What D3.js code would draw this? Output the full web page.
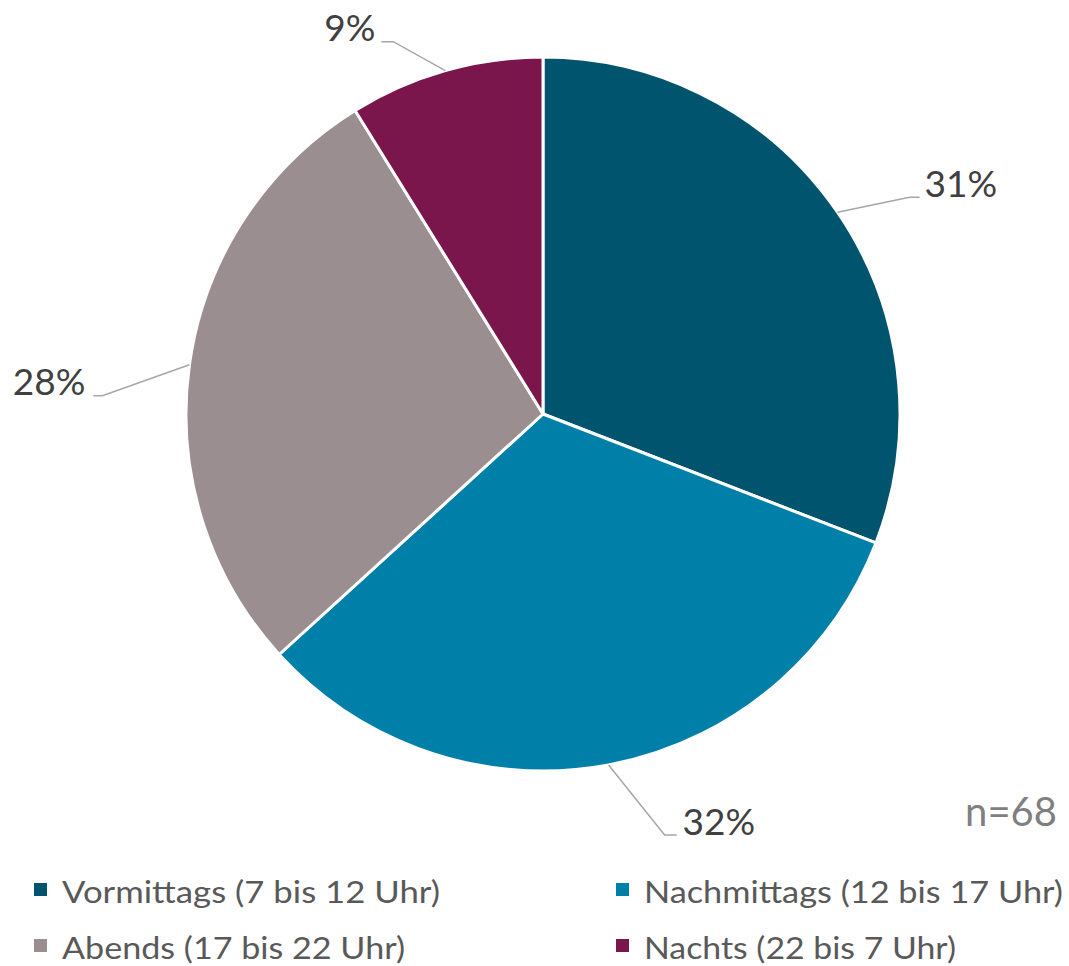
<!DOCTYPE html>
<html><head><meta charset="utf-8">
<script src="https://cdn.jsdelivr.net/npm/d3@7"></script>
<style>body{margin:0;background:#fff}svg{display:block}</style>
</head><body>
<svg id="c" width="1069" height="966"></svg>
<script>
const categories = ["Vormittags (7 bis 12 Uhr)", "Nachmittags (12 bis 17 Uhr)", "Abends (17 bis 22 Uhr)", "Nachts (22 bis 7 Uhr)"];
const counts = [21, 22, 19, 6];
const percentLabels = ["31%", "32%", "28%", "9%"];
const colors = ["#00546E", "#0080A8", "#9B8E90", "#7A164C"];
const sampleNote = "n=68";

const svg = d3.select("#c");
const cx = 543, cy = 414, R = 357;
const font = "Lato, 'Open Sans', sans-serif";

const pie = d3.pie().sort(null).value(d => d)(counts);
const arc = d3.arc().innerRadius(0).outerRadius(R);
const g = svg.append("g").attr("transform", `translate(${cx},${cy})`);
g.selectAll("path").data(pie).join("path")
  .attr("d", arc).attr("fill", (d, i) => colors[i])
  .attr("stroke", "#fff").attr("stroke-width", 3).attr("stroke-linejoin", "round");

// label layout: elbow offsets from the arc point, label anchor
const layout = [
  {elbow: [72, -15], tail: 10, anchor: "start", dx: 5, dy: 0},
  {elbow: [56, 70], tail: 12, anchor: "start", dx: 6, dy: 0},
  {elbow: [-87, 31], tail: -9, anchor: "end", dx: -8, dy: -1},
  {elbow: [-52, -29], tail: -12, anchor: "end", dx: -6, dy: -1}
];
pie.forEach((d, i) => {
  const a = (d.startAngle + d.endAngle) / 2;
  const p0 = [cx + R * Math.sin(a), cy - R * Math.cos(a)];
  const L = layout[i];
  const p1 = [p0[0] + L.elbow[0], p0[1] + L.elbow[1]];
  const p2 = [p1[0] + L.tail, p1[1]];
  svg.append("path").attr("d", d3.line()([p0, p1, p2]))
    .attr("fill", "none").attr("stroke", "#A6A6A6").attr("stroke-width", 1.5);
  svg.append("text").attr("x", p2[0] + L.dx).attr("y", p2[1] + L.dy)
    .attr("text-anchor", L.anchor).attr("font-family", font).attr("font-size", 37)
    .attr("fill", "#404040").text(percentLabels[i]);
});

svg.append("text").attr("x", 1057).attr("y", 826).attr("text-anchor", "end")
  .attr("font-family", font).attr("font-size", 40).attr("fill", "#7F7F7F").text(sampleNote);

const legPos = [[34, 883], [616, 883], [34, 939], [616, 939]];
const legW = [378, 419, 343, 312];
categories.forEach((c, i) => {
  const [x, y] = legPos[i];
  svg.append("rect").attr("x", x).attr("y", y).attr("width", 13).attr("height", 13).attr("fill", colors[i]);
  svg.append("text").attr("x", x + 28).attr("y", y + 20)
    .attr("font-family", font).attr("font-size", 30).attr("fill", "#595959")
    .attr("textLength", legW[i]).attr("lengthAdjust", "spacingAndGlyphs").text(c);
});
</script>
</body></html>
